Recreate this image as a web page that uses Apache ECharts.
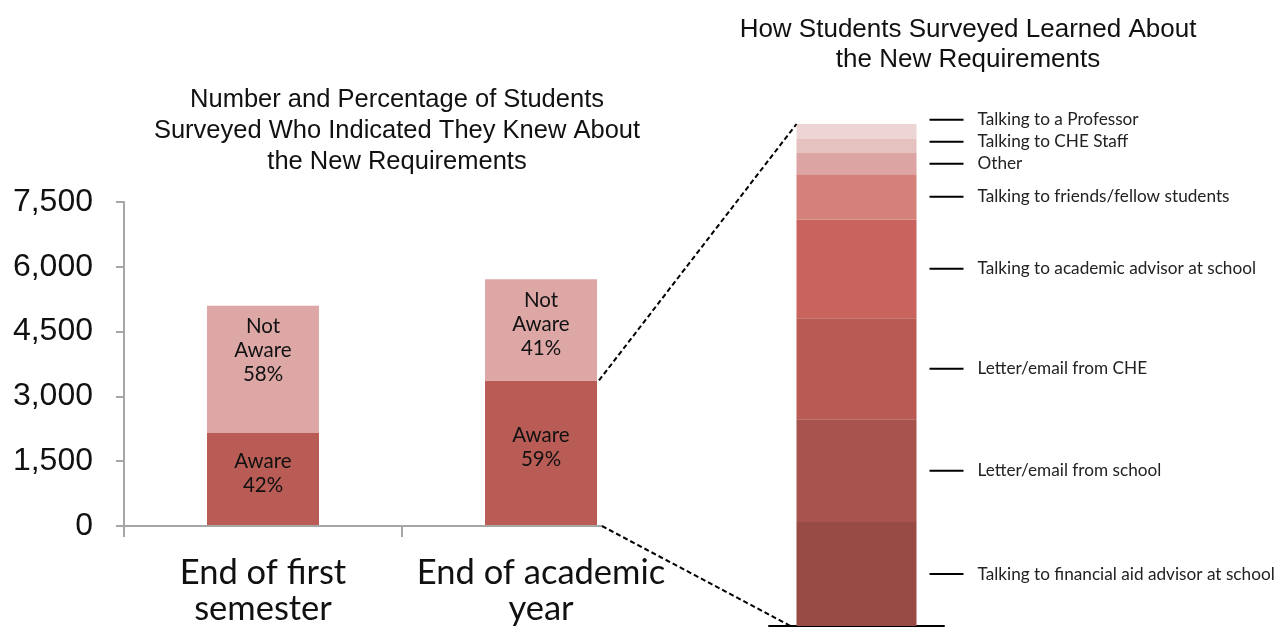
<!DOCTYPE html>
<html>
<head>
<meta charset="utf-8">
<script src="https://cdn.jsdelivr.net/npm/echarts@6/dist/echarts.min.js"></script>
<style>
  html, body { margin: 0; padding: 0; background: #ffffff; }
  #chart { width: 1285px; height: 628px; }
</style>
</head>
<body>
<div id="chart"></div>
<script>
// Students aware / not aware of the new requirements at two survey points
const periods = ['End of first\nsemester', 'End of academic\nyear'];
const awareCounts = [2150, 3370];
const notAwareCounts = [2950, 2340];
const countTicks = [0, 1500, 3000, 4500, 6000, 7500];

// How students learned about the requirements (share of responses, %), bottom to top
const sources = [
  'Talking to financial aid advisor at school',
  'Letter/email from school',
  'Letter/email from CHE',
  'Talking to academic advisor at school',
  'Talking to friends/fellow students',
  'Other',
  'Talking to CHE Staff',
  'Talking to a Professor'
];
const sourceShares = [20.7, 20.5, 20.1, 19.7, 9.0, 4.2, 2.8, 3.0];

// palette
const awareColor = '#b95c55';
const notAwareColor = '#dda7a6';
const sourceColors = ['#984a45', '#a9534e', '#b95b54', '#c8635e', '#d4817a', '#dca4a2', '#e5c1c0', '#eed5d5'];
const axisGrey = '#a6a6a6';
const ARIAL = "'Liberation Sans', Arial, sans-serif";
const SANS = "Lato, 'Open Sans', sans-serif";

const leftBarWidth = 112;
const rightBarWidth = 120;
const shareTotal = 100;
const minLabelGap = 22;   // px between stacked source labels

const pct = (a, b) => Math.round(a / (a + b) * 100);

const chart = echarts.init(document.getElementById('chart'), null, { renderer: 'canvas' });

const sourceSeries = sources.map((name, i) => ({
  name: name,
  type: 'bar',
  stack: 'sources',
  xAxisIndex: 1,
  yAxisIndex: 1,
  barWidth: rightBarWidth,
  data: [sourceShares[i]],
  itemStyle: { color: sourceColors[i] },
  label: {
    show: true,
    position: 'right',
    distance: 13,
    formatter: '{tick|}{txt|' + name + '}',
    rich: {
      tick: { width: 34, height: 2, backgroundColor: '#000' },
      txt: { fontSize: 17.2, fontFamily: SANS, color: '#222', padding: [0, 0, 0, 14] }
    }
  },
  emphasis: { disabled: true }
}));

chart.setOption({
  animation: false,
  backgroundColor: '#ffffff',
  title: [
    {
      text: 'Number and Percentage of Students\nSurveyed Who Indicated They Knew About\nthe New Requirements',
      left: 392, top: 79, textAlign: 'center',
      textStyle: { fontFamily: ARIAL, fontSize: 25.5, fontWeight: 'normal', color: '#111', lineHeight: 31 }
    },
    {
      text: 'How Students Surveyed Learned About\nthe New Requirements',
      left: 963, top: 10, textAlign: 'center',
      textStyle: { fontFamily: ARIAL, fontSize: 26, fontWeight: 'normal', color: '#111', lineHeight: 30 }
    }
  ],
  grid: [
    { left: 124, right: 605, top: 202, bottom: 102 },
    { left: 769, width: 175, top: 124, bottom: 2 }
  ],
  xAxis: [
    {
      type: 'category', gridIndex: 0, data: periods,
      axisLine: { show: false }, axisTick: { show: false },
      axisLabel: { fontFamily: SANS, fontSize: 34.5, lineHeight: 36, color: '#111', margin: 29, interval: 0 }
    },
    {
      type: 'category', gridIndex: 1, data: [''],
      axisLine: { show: true, lineStyle: { color: '#000', width: 2 } },
      axisTick: { show: false }, axisLabel: { show: false }
    }
  ],
  yAxis: [
    {
      type: 'value', gridIndex: 0, min: countTicks[0], max: countTicks[countTicks.length - 1],
      interval: countTicks[1] - countTicks[0],
      axisLine: { show: true, lineStyle: { color: axisGrey, width: 2 } },
      axisTick: { show: true, length: 8, lineStyle: { color: axisGrey, width: 2 } },
      splitLine: { show: false },
      axisLabel: {
        fontFamily: ARIAL, fontSize: 32, color: '#111', margin: 31,
        formatter: v => v.toLocaleString('en-US')
      }
    },
    {
      type: 'value', gridIndex: 1, min: 0, max: shareTotal,
      axisLine: { show: false }, axisTick: { show: false },
      axisLabel: { show: false }, splitLine: { show: false }
    }
  ],
  series: [
    {
      name: 'Aware', type: 'bar', stack: 'awareness', barWidth: leftBarWidth,
      data: awareCounts, itemStyle: { color: awareColor },
      label: {
        show: true, position: 'inside', offset: [0, -6],
        fontFamily: SANS, fontSize: 20.5, lineHeight: 24, color: '#111',
        formatter: p => 'Aware\n' + pct(awareCounts[p.dataIndex], notAwareCounts[p.dataIndex]) + '%'
      },
      emphasis: { disabled: true }
    },
    {
      name: 'Not Aware', type: 'bar', stack: 'awareness', barWidth: leftBarWidth,
      data: notAwareCounts, itemStyle: { color: notAwareColor },
      label: {
        show: true, position: 'insideTop', distance: 9,
        fontFamily: SANS, fontSize: 20.5, lineHeight: 24, color: '#111',
        formatter: p => 'Not\nAware\n' + pct(notAwareCounts[p.dataIndex], awareCounts[p.dataIndex]) + '%'
      },
      emphasis: { disabled: true }
    }
  ].concat(sourceSeries)
});

// Keep the small source labels at the top of the stack from colliding:
// walk upward from the bottom and push each label up when it is too close.
function spreadSourceLabels() {
  let cum = 0;
  let prevY = Infinity;
  const offsets = sourceShares.map(v => {
    const centre = chart.convertToPixel({ yAxisIndex: 1 }, cum + v / 2);
    cum += v;
    const y = Math.min(centre, prevY - minLabelGap);
    prevY = y;
    return y - centre;
  });
  chart.setOption({
    series: sourceSeries.map((s, i) => ({ name: s.name, label: { offset: [0, offsets[i]] } }))
  });
}

// Horizontal axis of the left panel, ticks and the dashed call-out lines,
// all placed from the axes' own pixel conversions.
function drawOverlay() {
  const c1 = chart.convertToPixel({ xAxisIndex: 0 }, 0);
  const c2 = chart.convertToPixel({ xAxisIndex: 0 }, 1);
  const band = c2 - c1;
  const axisStart = c1 - band / 2;
  const midTick = (c1 + c2) / 2;
  const yZero = chart.convertToPixel({ yAxisIndex: 0 }, 0);
  const yAwareTop = chart.convertToPixel({ yAxisIndex: 0 }, awareCounts[1]);
  const barRight = c2 + leftBarWidth / 2;

  const cR = chart.convertToPixel({ xAxisIndex: 1 }, 0);
  const rLeft = cR - rightBarWidth / 2;
  const rTop = chart.convertToPixel({ yAxisIndex: 1 }, shareTotal);
  const rBottom = chart.convertToPixel({ yAxisIndex: 1 }, 0);

  const grey = { stroke: axisGrey, lineWidth: 2 };
  const dash = { stroke: '#000', lineWidth: 2, lineDash: [5, 3] };

  chart.setOption({
    graphic: [
      { type: 'line', shape: { x1: axisStart, y1: yZero, x2: barRight + 5, y2: yZero }, style: grey, z: 10 },
      { type: 'line', shape: { x1: axisStart, y1: yZero, x2: axisStart, y2: yZero + 11 }, style: grey, z: 10 },
      { type: 'line', shape: { x1: midTick, y1: yZero, x2: midTick, y2: yZero + 11 }, style: grey, z: 10 },
      { type: 'line', shape: { x1: barRight + 2, y1: yAwareTop, x2: rLeft, y2: rTop }, style: dash, z: 10 },
      { type: 'line', shape: { x1: barRight + 5, y1: yZero, x2: rLeft - 6, y2: rBottom }, style: dash, z: 10 }
    ]
  });
}
spreadSourceLabels();
drawOverlay();
</script>
</body>
</html>
